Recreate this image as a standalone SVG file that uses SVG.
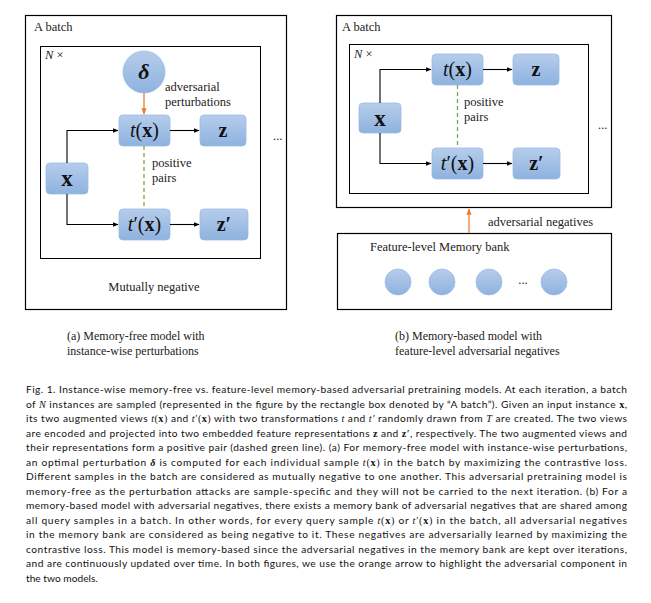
<svg xmlns="http://www.w3.org/2000/svg" width="651" height="603" viewBox="0 0 651 603">
<style>
.frame{fill:none;stroke:#000;stroke-width:1.2}
.inner{fill:none;stroke:#000;stroke-width:1}
.node{fill:url(#g);stroke:#9bbbe4;stroke-width:0.8}
.lbl{font-family:"Liberation Serif",serif;font-size:12.5px;fill:#222}
.sub{font-size:12px}
.math{font-family:"Liberation Serif",serif;font-size:20px;fill:#111;text-anchor:middle}
.big{font-size:23px;font-weight:bold}
.dl{font-size:22px;font-weight:bold;font-style:italic}
.wire{fill:none;stroke:#000;stroke-width:1.1}
.cap{font-family:Lato,"Liberation Sans",sans-serif;font-size:10.2px;fill:#111}
.ms{font-family:"Liberation Serif",serif}
</style>
<defs>
<linearGradient id="g" x1="0" y1="0" x2="0" y2="1">
<stop offset="0" stop-color="#b6cdeb"/>
<stop offset="1" stop-color="#8eb2df"/>
</linearGradient>
<marker id="ab" viewBox="0 0 10 10" refX="9" refY="5" markerWidth="5" markerHeight="5" orient="auto">
<path d="M0,1 L10,5 L0,9 z" fill="#000"/>
</marker>
<marker id="ao" viewBox="0 0 10 10" refX="9" refY="5" markerWidth="5" markerHeight="5" orient="auto">
<path d="M0,1 L10,5 L0,9 z" fill="#ed7d31"/>
</marker>
</defs>

<!-- Panel (a) -->
<g id="panel-a">
<rect class="frame" x="25.5" y="15.5" width="261" height="294"/>
<text class="lbl" x="34" y="31">A batch</text>
<rect class="inner" x="40.5" y="46.5" width="220" height="212"/>
<text class="lbl" x="45" y="59"><tspan font-style="italic">N</tspan> ×</text>
<text class="lbl" x="273" y="140">...</text>
<text class="lbl" x="154" y="291" text-anchor="middle">Mutually negative</text>
<text class="lbl" x="165" y="91">adversarial</text>
<text class="lbl" x="165" y="106">perturbations</text>
<text class="lbl" x="152" y="167">positive</text>
<text class="lbl" x="152" y="182">pairs</text>
</g>
<g id="a-delta"><circle class="node" cx="144" cy="72" r="21"/><text class="math dl" x="144" y="79">δ</text></g>
<g id="a-tx"><rect class="node" x="119" y="115" width="51" height="31" rx="4"/><text class="math" x="144.5" y="137"><tspan font-style="italic">t</tspan>(<tspan font-weight="bold">x</tspan>)</text></g>
<g id="a-z"><rect class="node" x="200" y="115" width="46" height="31" rx="4"/><text class="math" x="223" y="137" font-weight="bold">z</text></g>
<g id="a-x"><rect class="node" x="46" y="163" width="42" height="31" rx="4"/><text class="math big" x="67" y="186">x</text></g>
<g id="a-tpx"><rect class="node" x="119" y="209" width="51" height="31" rx="4"/><text class="math" x="144.5" y="231"><tspan font-style="italic">t</tspan>′(<tspan font-weight="bold">x</tspan>)</text></g>
<g id="a-zp"><rect class="node" x="200" y="209" width="48" height="31" rx="4"/><text class="math" x="224" y="231" font-weight="bold">z′</text></g>

<!-- Panel (b) -->
<g id="panel-b">
<rect class="frame" x="336.5" y="15.5" width="275" height="192"/>
<text class="lbl" x="342" y="31">A batch</text>
<rect class="inner" x="349.5" y="44.5" width="239" height="149"/>
<text class="lbl" x="354" y="58"><tspan font-style="italic">N</tspan> ×</text>
<text class="lbl" x="598" y="129">...</text>
<text class="lbl" x="464" y="106">positive</text>
<text class="lbl" x="464" y="121">pairs</text>
<text class="lbl" x="488" y="226">adversarial negatives</text>
</g>
<g id="b-tx"><rect class="node" x="432" y="54" width="51" height="31" rx="4"/><text class="math" x="457.5" y="76"><tspan font-style="italic">t</tspan>(<tspan font-weight="bold">x</tspan>)</text></g>
<g id="b-z"><rect class="node" x="513" y="54" width="46" height="31" rx="4"/><text class="math" x="536" y="76" font-weight="bold">z</text></g>
<g id="b-x"><rect class="node" x="359" y="103" width="42" height="30" rx="4"/><text class="math big" x="380" y="126">x</text></g>
<g id="b-tpx"><rect class="node" x="432" y="148" width="51" height="31" rx="4"/><text class="math" x="457.5" y="170"><tspan font-style="italic">t</tspan>′(<tspan font-weight="bold">x</tspan>)</text></g>
<g id="b-zp"><rect class="node" x="513" y="148" width="47" height="31" rx="4"/><text class="math" x="536.5" y="170" font-weight="bold">z′</text></g>
<g id="memory-bank">
<rect class="frame" x="337.5" y="233.5" width="274" height="76"/>
<text class="lbl" x="370" y="251">Feature-level Memory bank</text>
<circle class="node" cx="398" cy="282" r="13"/>
<circle class="node" cx="442" cy="282" r="13"/>
<circle class="node" cx="489" cy="282" r="13"/>
<text class="lbl" x="523" y="284" text-anchor="middle">...</text>
<circle class="node" cx="554" cy="282" r="13"/>
</g>

<g id="connectors">
<path class="wire" d="M67,163 V130.5 H118" marker-end="url(#ab)"/>
<path class="wire" d="M67,194 V224.5 H118" marker-end="url(#ab)"/>
<path class="wire" d="M170,130.5 H199" marker-end="url(#ab)"/>
<path class="wire" d="M170,224.5 H199" marker-end="url(#ab)"/>
<path d="M144,93 V114" fill="none" stroke="#ed7d31" stroke-width="1.3" marker-end="url(#ao)"/>
<path d="M144,146 V209" fill="none" stroke="#70ad47" stroke-width="1.3" stroke-dasharray="4,3"/>
<path class="wire" d="M380,103 V69.5 H431" marker-end="url(#ab)"/>
<path class="wire" d="M380,133 V163.5 H431" marker-end="url(#ab)"/>
<path class="wire" d="M483,69.5 H512" marker-end="url(#ab)"/>
<path class="wire" d="M483,163.5 H512" marker-end="url(#ab)"/>
<path d="M457.5,85 V148" fill="none" stroke="#70ad47" stroke-width="1.3" stroke-dasharray="4,3"/>
<path d="M469,233 V209" fill="none" stroke="#ed7d31" stroke-width="1.3" marker-end="url(#ao)"/>
</g>

<g id="subcaptions">
<text class="lbl sub" x="67" y="340">(a) Memory-free model with</text>
<text class="lbl sub" x="67" y="355">instance-wise perturbations</text>
<text class="lbl sub" x="395" y="340">(b) Memory-based model with</text>
<text class="lbl sub" x="395" y="355">feature-level adversarial negatives</text>
</g>

<g id="caption" class="cap">
<text x="26" y="393" textLength="601" lengthAdjust="spacing">Fig. 1.  Instance-wise memory-free vs. feature-level memory-based adversarial pretraining models. At each iteration, a batch</text>
<text x="26" y="407.5" textLength="601" lengthAdjust="spacing">of <tspan class="ms" font-style="italic">N</tspan> instances are sampled (represented in the figure by the rectangle box denoted by “A batch”). Given an input instance <tspan class="ms" font-weight="bold">x</tspan>,</text>
<text x="26" y="422" textLength="601" lengthAdjust="spacing">its two augmented views <tspan class="ms" font-style="italic">t</tspan><tspan class="ms">(</tspan><tspan class="ms" font-weight="bold">x</tspan><tspan class="ms">)</tspan> and <tspan class="ms" font-style="italic">t</tspan><tspan class="ms">′(</tspan><tspan class="ms" font-weight="bold">x</tspan><tspan class="ms">)</tspan> with two transformations <tspan class="ms" font-style="italic">t</tspan> and <tspan class="ms" font-style="italic">t′</tspan> randomly drawn from <tspan class="ms" font-style="italic">T</tspan> are created. The two views</text>
<text x="26" y="436.5" textLength="601" lengthAdjust="spacing">are encoded and projected into two embedded feature representations <tspan class="ms" font-weight="bold">z</tspan> and <tspan class="ms" font-weight="bold">z′</tspan>, respectively. The two augmented views and</text>
<text x="26" y="451" textLength="601" lengthAdjust="spacing">their representations form a positive pair (dashed green line). (a) For memory-free model with instance-wise perturbations,</text>
<text x="26" y="465.5" textLength="601" lengthAdjust="spacing">an optimal perturbation <tspan class="ms" font-style="italic" font-weight="bold">δ</tspan> is computed for each individual sample <tspan class="ms" font-style="italic">t</tspan><tspan class="ms">(</tspan><tspan class="ms" font-weight="bold">x</tspan><tspan class="ms">)</tspan> in the batch by maximizing the contrastive loss.</text>
<text x="26" y="480" textLength="601" lengthAdjust="spacing">Different samples in the batch are considered as mutually negative to one another. This adversarial pretraining model is</text>
<text x="26" y="494.5" textLength="601" lengthAdjust="spacing">memory-free as the perturbation attacks are sample-specific and they will not be carried to the next iteration. (b) For a</text>
<text x="26" y="509" textLength="601" lengthAdjust="spacing">memory-based model with adversarial negatives, there exists a memory bank of adversarial negatives that are shared among</text>
<text x="26" y="523.5" textLength="601" lengthAdjust="spacing">all query samples in a batch. In other words, for every query sample <tspan class="ms" font-style="italic">t</tspan><tspan class="ms">(</tspan><tspan class="ms" font-weight="bold">x</tspan><tspan class="ms">)</tspan> or <tspan class="ms" font-style="italic">t</tspan><tspan class="ms">′(</tspan><tspan class="ms" font-weight="bold">x</tspan><tspan class="ms">)</tspan> in the batch, all adversarial negatives</text>
<text x="26" y="538" textLength="601" lengthAdjust="spacing">in the memory bank are considered as being negative to it. These negatives are adversarially learned by maximizing the</text>
<text x="26" y="552.5" textLength="601" lengthAdjust="spacing">contrastive loss. This model is memory-based since the adversarial negatives in the memory bank are kept over iterations,</text>
<text x="26" y="567" textLength="601" lengthAdjust="spacing">and are continuously updated over time. In both figures, we use the orange arrow to highlight the adversarial component in</text>
<text x="26" y="581.5">the two models.</text>
</g>
</svg>
